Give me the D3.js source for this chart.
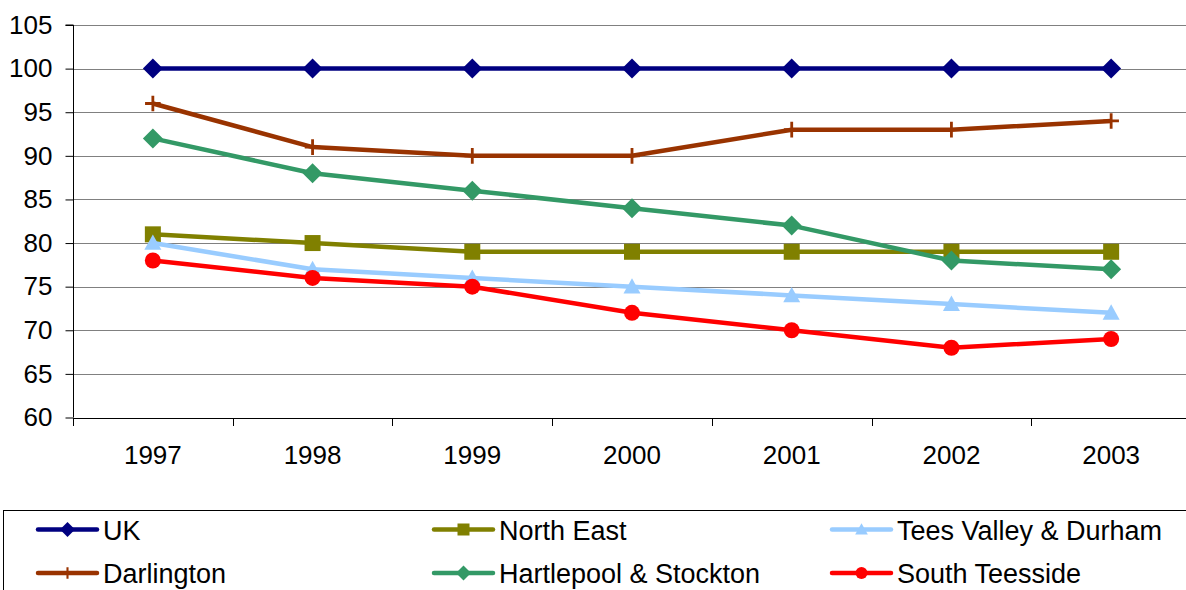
<!DOCTYPE html>
<html>
<head>
<meta charset="utf-8">
<script src="https://cdn.jsdelivr.net/npm/d3@7"></script>
<style>
  html, body { margin: 0; padding: 0; background: #fff; }
  svg { display: block; font-family: "Liberation Sans", Arial, sans-serif; }
</style>
</head>
<body>
<svg id="chart" width="1186" height="590"></svg>
<script>
// Index values by year (UK = 100)
const years = ["1997", "1998", "1999", "2000", "2001", "2002", "2003"];
const yTicks = [60, 65, 70, 75, 80, 85, 90, 95, 100, 105];

const ukValues = [100, 100, 100, 100, 100, 100, 100];
const northEastValues = [81, 80, 79, 79, 79, 79, 79];
const teesValleyValues = [80, 77, 76, 75, 74, 73, 72];
const darlingtonValues = [96, 91, 90, 90, 93, 93, 94];
const hartlepoolValues = [92, 88, 86, 84, 82, 78, 77];
const southTeessideValues = [78, 76, 75, 72, 70, 68, 69];

const seriesNames = ["UK", "North East", "Tees Valley & Durham", "Darlington", "Hartlepool & Stockton", "South Teesside"];
const seriesValues = [ukValues, northEastValues, teesValleyValues, darlingtonValues, hartlepoolValues, southTeessideValues];
const seriesColors = ["#000080", "#808000", "#99CCFF", "#993300", "#339966", "#FF0000"];
const seriesMarkers = ["diamond", "square", "triangle", "plus", "diamond", "circle"];

const series = seriesNames.map((name, i) => ({
  name, values: seriesValues[i], color: seriesColors[i], marker: seriesMarkers[i]
}));

const AXIS_FONT = 26;
const LEGEND_FONT = 27;
const svg = d3.select("#chart");
const plot = { left: 73, right: 1191, top: 25, bottom: 417.5 };

const x = d3.scaleBand().domain(years).range([plot.left, plot.right]);
const y = d3.scaleLinear().domain([60, 105]).range([plot.bottom, plot.top]);
const cx = d => x(d) + x.bandwidth() / 2;

// Horizontal gridlines
svg.append("g")
  .selectAll("line")
  .data(yTicks.filter(t => t > 60))
  .join("line")
  .attr("x1", plot.left).attr("x2", plot.right)
  .attr("y1", d => Math.round(y(d)) + 0.5).attr("y2", d => Math.round(y(d)) + 0.5)
  .attr("stroke", "#808080").attr("stroke-width", 1);

// Y axis
const yAxis = svg.append("g")
  .attr("transform", `translate(${plot.left + 0.5},0)`)
  .call(d3.axisLeft(y).tickValues(yTicks).tickSize(8).tickPadding(13).tickFormat(d3.format("d")));
yAxis.select(".domain").attr("stroke", "#000").attr("d", `M-8,${plot.top}H0V${plot.bottom}`);
yAxis.selectAll(".tick line").attr("stroke", "#000");
yAxis.selectAll(".tick text").attr("font-size", AXIS_FONT).attr("fill", "#000")
  .attr("font-family", "Liberation Sans, Arial, sans-serif");

// X axis
const xAxis = svg.append("g")
  .attr("transform", `translate(0,${Math.round(plot.bottom) + 0.5})`)
  .call(d3.axisBottom(x).tickSize(0).tickPadding(27));
xAxis.select(".domain").attr("stroke", "#000").attr("d", `M${plot.left},0H${plot.right}`);
xAxis.selectAll(".tick text").attr("font-size", AXIS_FONT).attr("fill", "#000")
  .attr("font-family", "Liberation Sans, Arial, sans-serif");
// Category separator ticks
svg.append("g")
  .selectAll("line")
  .data(d3.range(years.length + 1))
  .join("line")
  .attr("x1", i => Math.round(plot.left + i * x.step()) + 0.5)
  .attr("x2", i => Math.round(plot.left + i * x.step()) + 0.5)
  .attr("y1", Math.round(plot.bottom)).attr("y2", Math.round(plot.bottom) + 8)
  .attr("stroke", "#000");

// Marker drawing
function drawMarker(g, type, color, size) {
  const s = size;
  if (type === "diamond") {
    g.append("path").attr("d", `M0,${-s}L${s},0L0,${s}L${-s},0Z`).attr("fill", color);
  } else if (type === "square") {
    const h = s * 0.8;
    g.append("rect").attr("x", -h).attr("y", -h).attr("width", 2 * h).attr("height", 2 * h).attr("fill", color);
  } else if (type === "triangle") {
    const h = s * 0.85;
    g.append("path").attr("d", `M0,${-h}L${h},${h * 0.8}L${-h},${h * 0.8}Z`).attr("fill", color);
  } else if (type === "circle") {
    g.append("circle").attr("r", s * 0.8).attr("fill", color);
  } else if (type === "plus") {
    const h = s * 0.78;
    g.append("path").attr("d", `M${-h},0H${h}M0,${-h}V${h}`).attr("stroke", color)
      .attr("stroke-width", s * 0.28).attr("fill", "none");
  }
}

const line = d3.line().x((d, i) => cx(years[i])).y(d => y(d));

series.forEach(s => {
  const g = svg.append("g");
  g.append("path")
    .attr("d", line(s.values))
    .attr("fill", "none").attr("stroke", s.color).attr("stroke-width", 4.5)
    .attr("stroke-linejoin", "round");
  s.values.forEach((v, i) => {
    const m = g.append("g").attr("transform", `translate(${cx(years[i])},${y(v)})`);
    drawMarker(m, s.marker, s.color, 10);
  });
});

// Legend
const legend = svg.append("g");
legend.append("rect")
  .attr("x", 3.5).attr("y", 510.5).attr("width", 1200).attr("height", 100)
  .attr("fill", "#fff").attr("stroke", "#000").attr("stroke-width", 1);

const legendCols = [37, 433, 831];
const legendRows = [529.5, 573];
series.forEach((s, i) => {
  const col = i % 3, row = Math.floor(i / 3);
  const lx = legendCols[col], ly = legendRows[row];
  const item = legend.append("g").attr("transform", `translate(${lx},${ly})`);
  item.append("line").attr("x1", 1).attr("x2", 60).attr("y1", 0).attr("y2", 0)
    .attr("stroke", s.color).attr("stroke-width", 4.5).attr("stroke-linecap", "round");
  drawMarker(item.append("g").attr("transform", "translate(30.5,0)"), s.marker, s.color, 7.5);
  item.append("text").attr("x", 66).attr("y", 0).attr("dy", "0.38em")
    .attr("font-size", LEGEND_FONT).attr("fill", "#000").text(s.name);
});
</script>
</body>
</html>
